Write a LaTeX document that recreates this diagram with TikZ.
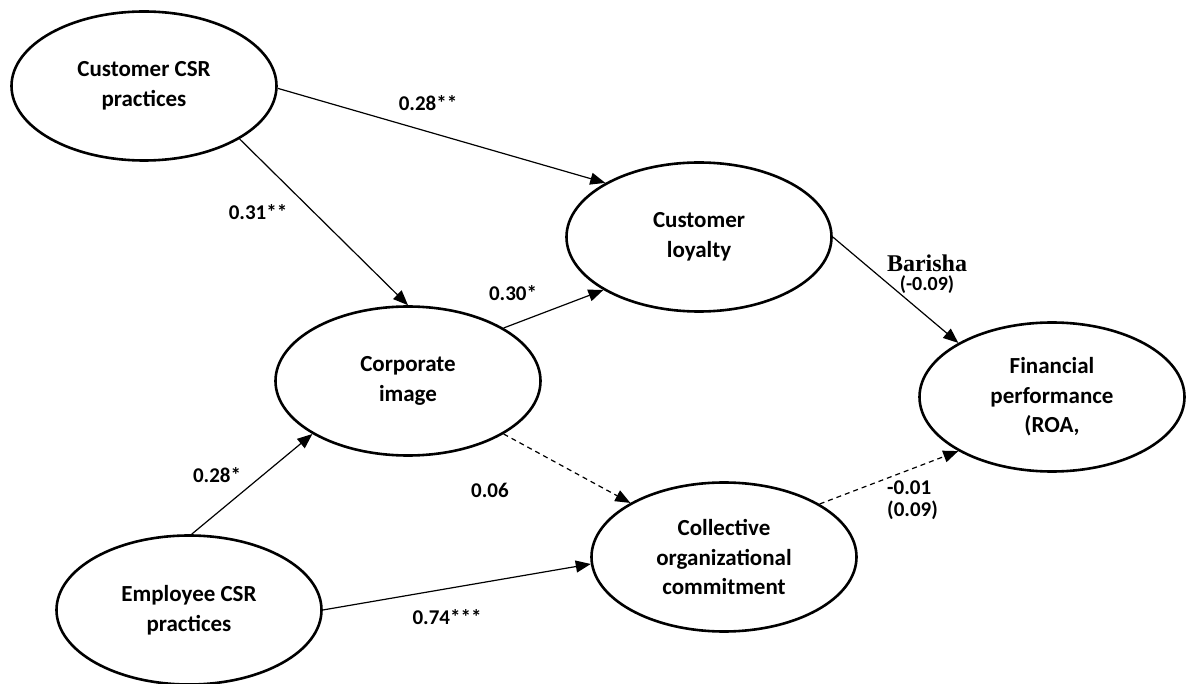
\documentclass[tikz,border=0pt]{standalone}
\usepackage{fontspec}
\setmainfont{Carlito}[BoldFont={Carlito Bold}]
\newfontfamily\serifbold{Liberation Serif Bold}
\usetikzlibrary{arrows.meta,shapes.geometric}

\tikzset{
  construct/.style={ellipse, draw, line width=2.6pt, inner sep=0pt,
    minimum width=265pt, minimum height=149pt, align=center,
    font=\fontsize{23}{29.5}\selectfont\bfseries},
  path/.style={line width=1.2pt, -{Triangle[length=15pt,width=12pt]}},
  nspath/.style={path, dash pattern=on 5pt off 4pt},
  coef/.style={font=\fontsize{21}{22}\selectfont\bfseries, inner sep=0pt}
}

\begin{document}
\begin{tikzpicture}[x=1pt, y=-1pt]
  \useasboundingbox (0,0) rectangle (1195,684);

  % latent constructs
  \node[construct] (ccsr) at (144,86)  {Customer CSR\\practices};
  \node[construct] (loy)  at (699,237) {Customer\\loyalty};
  \node[construct] (img)  at (408,381) {Corporate\\image};
  \node[construct] (com)  at (724,557) {Collective\\organizational\\commitment};
  \node[construct] (ecsr) at (189,610) {Employee CSR\\practices};
  \node[construct] (fin)  at (1052,397) {Financial\\performance\\(ROA,};

  % structural paths
  \draw[path]   (ccsr.-1)  -- (loy.150.6);
  \draw[path]   (ccsr.-29.4) -- (img.90);
  \draw[path]   (img.29.6) -- (loy.209.8);
  \draw[nspath] (img.-29.4) -- (com.150.2);
  \draw[path]   (ecsr.88)  -- (img.209.4);
  \draw[path]   (ecsr.0)   -- (com.183.5);
  \draw[path]   (loy.0)    -- (fin.150.4);
  \draw[nspath] (com.29.9) -- (fin.210.3);

  % path coefficients
  \node[coef] (c1) at (428,103) {0.28**};
  \node[coef] (c2) at (258,212) {0.31**};
  \node[coef] (c3) at (513,293) {0.30*};
  \node[coef] (c4) at (217,475) {0.28*};
  \node[coef] (c5) at (490,490) {0.06};
  \node[coef] (c6) at (447,617) {0.74***};
  \node[coef, align=left, anchor=north west] (c7) at (887,481)
    {-0.01\\(0.09)};
  \node[coef, align=center, font=\fontsize{20}{19}\selectfont\bfseries]
    (c8) at (927,274) {{\serifbold\fontsize{24}{19}\selectfont Barisha}\\(-0.09)};
\end{tikzpicture}
\end{document}
